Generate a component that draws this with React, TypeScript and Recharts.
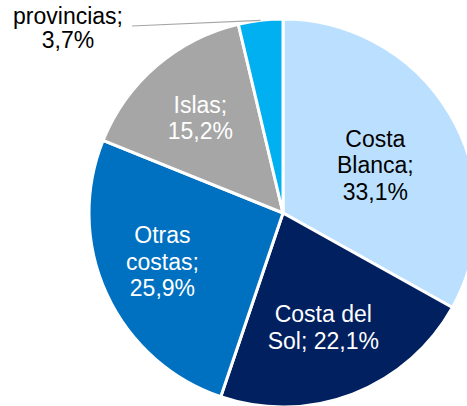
import React from "react";
import { PieChart, Pie, Cell } from "recharts";

const categories = ["Costa Blanca", "Costa del Sol", "Otras costas", "Islas", "Otras provincias"];
const values = [33.1, 22.1, 25.9, 15.2, 3.7];
const colors = ["#BBE0FF", "#002060", "#0070C0", "#A6A6A6", "#00B0F0"];
const textColors = ["#000000", "#FFFFFF", "#FFFFFF", "#FFFFFF", "#000000"];

const fmt = (v: number) => `${v.toFixed(1).replace(".", ",")}%`;

// line layouts of each label (visible text)
const labelLines: string[][] = [
  ["Costa", "Blanca;", fmt(values[0])],
  ["Costa del", "Sol; " + fmt(values[1])],
  ["Otras", "costas;", fmt(values[2])],
  ["Islas;", fmt(values[3])],
  ["provincias;", fmt(values[4])],
];

const data = categories.map((name, i) => ({ name, value: values[i] }));

const RAD = Math.PI / 180;
const labelRadii = [104, 121, 130, 126];
const labelAngleShift = [-3, -1.6, -2.7, 0.3];
const FONT = "'Liberation Sans', Arial, sans-serif";
const FS = 23;
const LH = 26.5;

const renderLabel = (props: any) => {
  const { cx, cy, midAngle, outerRadius, index } = props;
  const lines = labelLines[index];
  if (index === 4) {
    const ox = cx + outerRadius * Math.cos(-midAngle * RAD);
    const oy = cy + outerRadius * Math.sin(-midAngle * RAD);
    return (
      <g key={`lbl-${index}`}>
        <line x1={ox} y1={oy} x2={132} y2={26} stroke="#A6A6A6" strokeWidth={1.2} />
        <text x={68} y={24} textAnchor="middle" fill={textColors[index]} fontFamily={FONT} fontSize={FS}>
          {lines[0]}
        </text>
        <text x={68} y={48} textAnchor="middle" fill={textColors[index]} fontFamily={FONT} fontSize={FS}>
          {lines[1]}
        </text>
      </g>
    );
  }
  const r = labelRadii[index];
  const a = (midAngle + labelAngleShift[index]) * RAD;
  const x = cx + r * Math.cos(-a);
  const y = cy + r * Math.sin(-a);
  const first = y - ((lines.length - 1) * LH) / 2 + 8.3;
  return (
    <g key={`lbl-${index}`}>
      {lines.map((t, k) => (
        <text
          key={k}
          x={x}
          y={first + k * LH}
          textAnchor="middle"
          fill={textColors[index]}
          fontFamily={FONT}
          fontSize={FS}
        >
          {t}
        </text>
      ))}
    </g>
  );
};

export default function App() {
  return (
    <div
      style={{
        position: "absolute",
        left: 0,
        top: 0,
        width: 467,
        height: 406,
        overflow: "hidden",
        background: "#FFFFFF",
      }}
    >
      <PieChart width={467} height={406} margin={{ top: 0, right: 0, bottom: 0, left: 0 }}>
        <Pie
          data={data}
          dataKey="value"
          nameKey="name"
          cx={283}
          cy={213}
          outerRadius={194}
          startAngle={90}
          endAngle={-270}
          stroke="#FFFFFF"
          strokeWidth={3}
          label={renderLabel}
          labelLine={false}
          isAnimationActive={false}
        >
          {data.map((d, i) => (
            <Cell key={d.name} fill={colors[i]} />
          ))}
        </Pie>
      </PieChart>
    </div>
  );
}
